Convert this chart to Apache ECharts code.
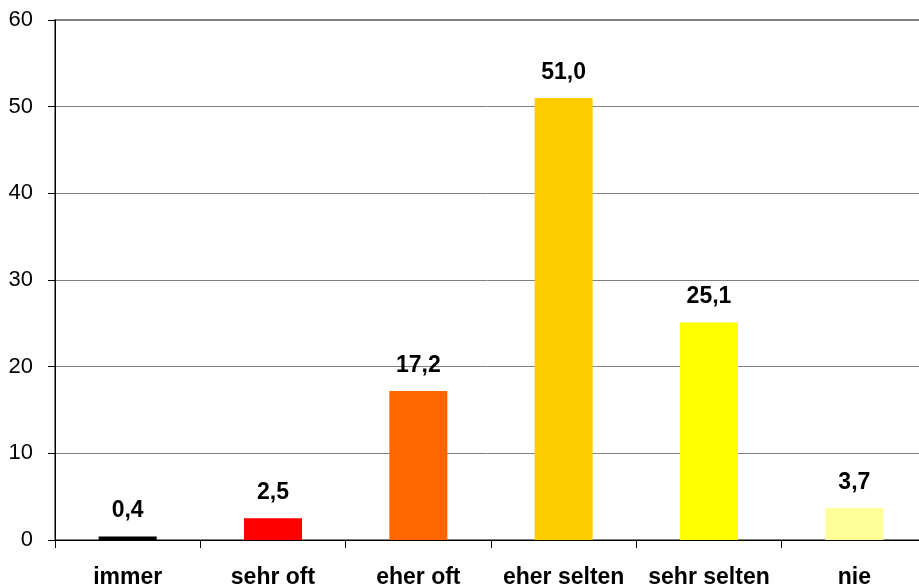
<!DOCTYPE html>
<html>
<head>
<meta charset="utf-8">
<script src="https://cdn.jsdelivr.net/npm/echarts@6/dist/echarts.min.js"></script>
<style>
  html, body { margin: 0; padding: 0; background: #fff; overflow: hidden; }
  #chart { width: 919px; height: 586px; }
</style>
</head>
<body>
<div id="chart"></div>
<script type="text/javascript">
  var categories = ['immer', 'sehr oft', 'eher oft', 'eher selten', 'sehr selten', 'nie'];
  var values = [0.4, 2.5, 17.2, 51.0, 25.1, 3.7];
  var barColors = ['#000000', '#FF0000', '#FF6600', '#FFCC00', '#FFFF00', '#FFFF99'];

  var myChart = echarts.init(document.getElementById('chart'));

  var option = {
    animation: false,
    grid: {
      left: 55,
      width: 872,
      top: 20,
      bottom: 46,
      outerBoundsMode: 'none',
      containLabel: false,
      show: true,
      borderColor: '#808080',
      borderWidth: 2,
      backgroundColor: 'transparent'
    },
    xAxis: {
      type: 'category',
      data: categories,
      axisLine: { lineStyle: { color: '#000', width: 1 } },
      axisTick: { show: true, length: 8, lineStyle: { color: '#000' } },
      axisLabel: {
        color: '#000',
        fontFamily: 'Liberation Sans, Arial, sans-serif',
        fontSize: 23,
        fontWeight: 'bold',
        margin: 26,
        interval: 0
      }
    },
    yAxis: {
      type: 'value',
      min: 0,
      max: 60,
      interval: 10,
      axisLine: { show: true, lineStyle: { color: '#000', width: 1 } },
      axisTick: { show: true, length: 7, lineStyle: { color: '#000' } },
      splitLine: { lineStyle: { color: '#808080', width: 1 } },
      axisLabel: {
        color: '#000',
        fontFamily: 'Liberation Sans, Arial, sans-serif',
        fontSize: 22,
        margin: 22
      }
    },
    series: [
      {
        type: 'bar',
        barWidth: 58,
        data: values.map(function (v, i) {
          return { value: v, itemStyle: { color: barColors[i] } };
        }),
        label: {
          show: true,
          position: 'top',
          distance: 14,
          color: '#000',
          fontFamily: 'Liberation Sans, Arial, sans-serif',
          fontSize: 23,
          fontWeight: 'bold',
          formatter: function (p) {
            return p.value.toFixed(1).replace('.', ',');
          }
        }
      }
    ]
  };

  myChart.setOption(option);
</script>
</body>
</html>
